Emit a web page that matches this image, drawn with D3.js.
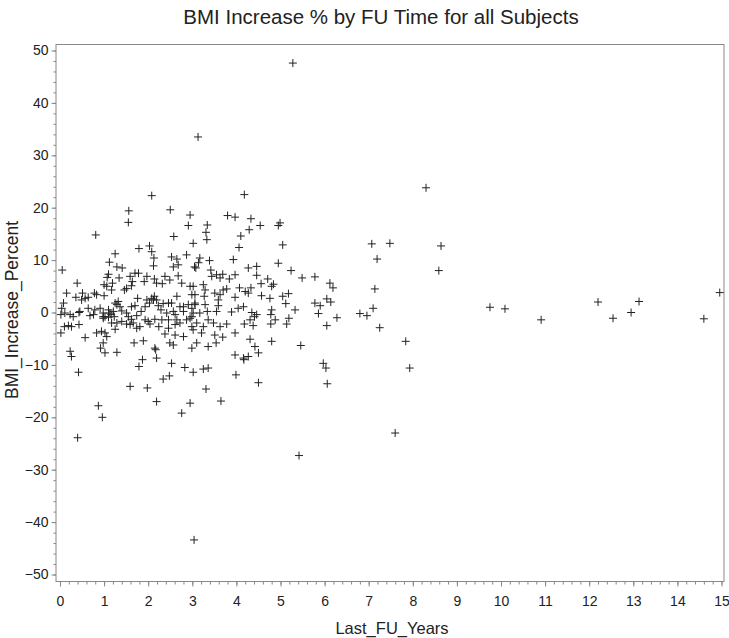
<!DOCTYPE html>
<html>
<head>
<meta charset="utf-8">
<script src="https://cdn.jsdelivr.net/npm/d3@7"></script>
<style>
  body { margin: 0; background: #fff; }
  text { font-family: "Liberation Sans", Arial, Helvetica, sans-serif; fill: #222; }
</style>
</head>
<body>
<div class="chart"></div>
<script>
// follow-up years (x) and BMI increase % (y)
const fuYears = [
  0.05, 0.39, 0.15, 0.36, 0.51, 0.57, 0.64, 0.78, 0.83, 0.49, 1.00, 1.06, 1.00, 1.17, 1.19, 1.46,
  1.51, 1.59, 1.70, 1.78, 1.62, 1.64, 1.91, 1.97, 2.14, 2.19, 2.32, 2.38, 2.49, 2.53, 2.65, 2.57,
  2.68, 2.87, 2.68, 2.76, 2.95, 2.99, 3.02, 3.05, 2.08, 1.56, 1.55, 2.50, 2.95, 2.91, 2.58, 0.81,
  1.79, 2.03, 2.08, 2.13, 2.12, 1.25, 1.12, 1.29, 1.41, 1.10, 1.07, 1.34,
  0.04, 0.02, 0.11, 0.23, 0.30, 0.43, 0.64, 0.68, 0.79, 0.91, 0.98, 1.02, 1.10, 1.16, 1.21, 1.29,
  1.36, 1.40, 1.51, 1.55, 1.62, 1.70, 1.76, 1.74, 1.84, 1.93, 1.97, 2.03, 2.08, 2.14, 2.19, 2.23,
  2.29, 2.34, 2.46, 2.53, 2.57, 2.65, 2.72, 2.80, 2.91, 2.99, 3.02,
  0.02, 0.19, 0.10, 0.43, 0.57, 0.23, 0.26, 0.42, 0.40, 0.87, 0.96, 0.83, 0.94, 1.06, 0.92, 1.02,
  0.98, 1.29, 1.25, 1.17, 1.10, 1.40, 1.51, 1.59, 1.66, 1.74, 1.81, 1.68, 1.89, 2.00, 2.04, 2.15,
  2.24, 2.15, 2.17, 2.19, 1.87, 1.79, 1.59, 1.98, 2.19, 2.34, 2.48, 2.53, 2.38, 2.49, 2.57, 2.61,
  2.46, 2.61, 2.72, 2.80, 2.83, 2.99, 2.95, 2.76, 3.02, 2.99, 2.87, 2.65, 2.31, 1.93, 1.62, 1.29,
  1.13, 1.23, 0.98,
  0.08, 0.26, 0.45, 0.76, 0.98, 1.02, 1.25, 1.32, 2.12, 2.42, 2.46, 2.61, 2.80, 2.95, 3.06,
  4.18, 3.80, 3.97, 4.33, 4.54, 4.95, 4.99, 3.34, 3.31, 3.33, 4.29, 4.10, 4.06, 5.05, 3.17, 3.14,
  3.08, 3.39, 3.93, 4.27, 4.46, 4.95, 5.24, 5.49, 5.78, 6.12, 3.42, 3.44, 3.55, 3.69, 3.63, 3.84,
  3.97, 4.46, 4.71, 4.56, 4.84, 4.80, 4.07, 4.20, 4.33, 4.27, 4.57, 4.76, 5.05, 5.18, 5.12, 5.33,
  5.78, 5.90, 5.86, 6.05, 6.05, 3.97, 3.78, 3.70, 3.51, 3.63, 3.59, 3.29, 3.02, 3.06, 3.25, 3.27,
  3.06, 3.29, 3.34, 3.17, 2.99, 3.55, 3.59, 3.89, 4.04, 4.16, 4.35, 4.41, 4.46, 4.80, 4.78, 4.88,
  4.78, 5.14, 5.19, 4.18, 4.38, 4.31, 3.78, 3.63, 3.48, 3.36, 3.25, 3.10, 3.02, 3.21, 3.51, 3.54,
  3.69, 3.97, 4.31, 4.42, 4.50, 4.80, 5.46, 3.36, 3.10, 3.97, 4.16, 4.27, 4.17, 3.25, 3.36, 3.99,
  4.50, 3.31, 3.65, 5.97, 6.03, 6.06,
  5.28, 3.13, 3.04, 5.42, 8.30, 7.07, 7.48, 8.64, 8.59, 7.19, 7.14, 7.25, 7.10, 6.80, 6.96, 7.84,
  7.93, 7.60, 9.75, 10.09, 10.91, 12.20, 12.54, 12.95, 13.13, 14.60, 14.96, 6.19, 6.28, 6.14
];
const bmiPct = [
  8.1, 5.6, 3.7, 2.9, 3.7, 2.7, 2.9, 3.7, 3.4, 2.4, 3.2, 5.0, 5.3, 4.3, 5.6, 4.3,
  4.6, 6.9, 7.5, 7.5, 5.1, 5.9, 5.9, 6.9, 6.4, 5.6, 5.5, 6.9, 6.2, 10.6, 10.2, 8.7,
  9.1, 11.0, 7.0, 5.6, 5.0, 3.4, 13.2, 8.7, 22.3, 19.4, 17.2, 19.6, 18.6, 16.6, 14.5, 14.8,
  12.2, 12.7, 11.6, 10.4, 8.9, 11.2, 9.6, 8.7, 8.5, 7.3, 6.7, 6.6,
  0.8, -0.4, -0.1, -0.4, -0.8, 0.0, 0.8, -0.6, 0.5, 0.8, -0.1, -0.8, 0.5, -0.4, 0.2, 1.5,
  1.1, 0.3, -0.1, -0.8, 1.1, 1.3, 2.7, -0.6, 0.2, 1.1, 2.4, 1.8, 2.7, 3.1, 2.4, 1.3,
  0.5, 1.7, 1.8, 1.8, 0.2, 3.1, 1.1, 0.2, 1.5, 0.8, -0.1,
  -3.9, -2.5, -2.7, -2.3, -4.8, -7.4, -8.4, -11.4, -23.9, -17.8, -20.0, -3.9, -3.6, -4.6, -6.8, -7.7,
  -5.8, -7.6, -3.2, -2.0, -0.9, -1.7, -2.2, -2.3, -2.0, -3.0, -2.7, -5.8, -5.4, -1.7, -2.2, -1.3,
  -2.7, -6.8, -7.1, -8.7, -9.0, -10.3, -14.1, -14.4, -17.0, -12.7, -12.1, -9.7, -4.1, -5.8, -6.2, -4.3,
  -3.0, -2.3, -2.0, -4.6, -10.5, -6.8, -17.3, -19.2, -11.4, -2.7, -1.4, -1.4, -1.4, -1.4, -1.3, -2.0,
  -0.1, -0.8, -0.8,
  1.8, -2.7, 0.2, -0.4, -1.1, -3.9, 1.8, 2.1, 2.4, -0.1, -1.4, -0.4, 1.1, -1.1, 1.8,
  22.5, 18.5, 18.2, 17.9, 16.6, 16.6, 17.1, 16.7, 15.3, 13.9, 15.8, 14.6, 12.4, 12.9, 10.4, 9.5,
  8.5, 9.9, 10.1, 8.5, 8.8, 9.4, 8.0, 6.6, 6.8, 5.6, 8.1, 6.9, 7.2, 7.3, 6.6, 6.4,
  7.2, 7.1, 6.4, 5.5, 5.4, 5.0, 4.7, 4.0, 4.7, 3.7, 3.2, 2.7, 3.1, 3.6, 1.7, 0.5,
  1.8, 1.3, -0.2, 2.6, -2.5, 2.9, 4.5, 4.3, 3.7, 3.4, 2.4, 4.3, 5.0, 3.4, 5.3, 3.1,
  1.5, 1.5, 0.2, -0.1, -0.8, 0.2, 1.3, 0.1, 0.8, 1.1, 0.0, -0.8, -0.4, 0.5, -0.4, -1.4,
  -2.2, -2.2, -1.1, -2.2, -2.5, -1.4, -2.2, -2.7, -2.0, -1.4, -2.7, -2.0, -3.3, -3.9, -4.3, -5.8,
  -4.7, -3.9, -5.1, -6.5, -7.7, -5.5, -6.3, -6.5, -5.8, -8.1, -8.7, -8.4, -9.0, -10.8, -10.6, -11.9,
  -13.4, -14.6, -16.9, -9.7, -10.6, -13.6,
  47.6, 33.5, -43.4, -27.3, 23.8, 13.1, 13.2, 12.7, 8.0, 10.2, 4.5, -2.9, 0.8, -0.2, -0.6, -5.5,
  -10.6, -23.0, 1.0, 0.7, -1.4, 2.0, -1.1, 0.0, 2.1, -1.2, 3.8, 4.7, -1.0, 2.0
];
const xTicks = d3.range(0, 16, 1);
const yTicks = d3.range(-50, 51, 10);

const width = 729, height = 638;
const frame = { left: 56, right: 724, top: 44.5, bottom: 581.5 };

const svg = d3
  .select(".chart")
  .append("svg")
  .attr("width", width)
  .attr("height", height);

const xScale = d3.scaleLinear().domain([0, 15]).range([60, 721.5]);
const yScale = d3.scaleLinear().domain([-50, 50]).range([574.5, 50.5]);

// title
svg.append("text")
  .attr("x", 381)
  .attr("y", 24)
  .attr("text-anchor", "middle")
  .style("font-size", "20.5px")
  .text("BMI Increase % by FU Time for all Subjects");

// x axis: minor then major ticks
const xMinor = svg.append("g")
  .attr("transform", `translate(0, ${frame.bottom})`)
  .call(d3.axisBottom(xScale).tickValues(d3.range(0, 15.01, 0.2)).tickSize(3).tickFormat(""));
const xAxis = svg.append("g")
  .attr("transform", `translate(0, ${frame.bottom})`)
  .call(d3.axisBottom(xScale).tickValues(xTicks).tickSize(5).tickPadding(10));

const yMinor = svg.append("g")
  .attr("transform", `translate(${frame.left}, 0)`)
  .call(d3.axisLeft(yScale).tickValues(d3.range(-50, 50.01, 2)).tickSize(2.5).tickFormat(""));
const yAxis = svg.append("g")
  .attr("transform", `translate(${frame.left}, 0)`)
  .call(d3.axisLeft(yScale).tickValues(yTicks).tickSize(4.5).tickPadding(3));

[xMinor, xAxis, yMinor, yAxis].forEach(g => {
  g.select(".domain").remove();
  g.selectAll(".tick line").attr("stroke", "#888");
  g.selectAll(".tick text").style("font-size", "14px").attr("fill", "#222");
});

// frame
svg.append("rect")
  .attr("x", frame.left)
  .attr("y", frame.top)
  .attr("width", frame.right - frame.left)
  .attr("height", frame.bottom - frame.top)
  .attr("fill", "none")
  .attr("stroke", "#888");

// axis titles
svg.append("text")
  .attr("x", 392)
  .attr("y", 634)
  .attr("text-anchor", "middle")
  .style("font-size", "16.5px")
  .text("Last_FU_Years");

svg.append("text")
  .attr("transform", `translate(18, 310) rotate(-90)`)
  .attr("text-anchor", "middle")
  .style("font-size", "17.5px")
  .text("BMI_Increase_Percent");

// points as plus markers
const pts = fuYears.map((x, i) => ({ x: x, y: bmiPct[i] }));
const s = 4;
svg.append("g")
  .selectAll("path")
  .data(pts)
  .enter()
  .append("path")
  .attr("transform", d => `translate(${xScale(d.x)}, ${yScale(d.y)})`)
  .attr("d", `M${-s},0H${s}M0,${-s}V${s}`)
  .attr("fill", "none")
  .attr("stroke", "#222")
  .attr("stroke-width", 1);
</script>
</body>
</html>
